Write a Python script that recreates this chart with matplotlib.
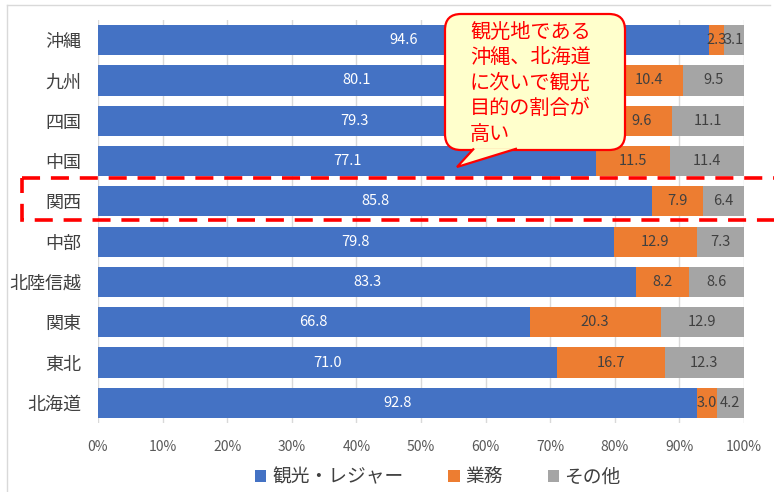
import matplotlib

matplotlib.use("Agg")
import matplotlib.pyplot as plt
from matplotlib.patches import FancyBboxPatch, Polygon, Rectangle
from matplotlib.ticker import FuncFormatter

plt.rcParams["font.family"] = ["Noto Sans CJK JP", "DejaVu Sans"]

# data (top to bottom as shown)
regions = ["沖縄", "九州", "四国", "中国", "関西", "中部", "北陸信越", "関東", "東北", "北海道"]
leisure = [94.6, 80.1, 79.3, 77.1, 85.8, 79.8, 83.3, 66.8, 71.0, 92.8]
business = [2.3, 10.4, 9.6, 11.5, 7.9, 12.9, 8.2, 20.3, 16.7, 3.0]
other = [3.1, 9.5, 11.1, 11.4, 6.4, 7.3, 8.6, 12.9, 12.3, 4.2]
series_names = ["観光・レジャー", "業務", "その他"]
callout_lines = ["観光地である", "沖縄、北海道", "に次いで観光", "目的の割合が", "高い"]
xticks = [0, 10, 20, 30, 40, 50, 60, 70, 80, 90, 100]

BLUE, ORANGE, GRAY = "#4472C4", "#ED7D31", "#A5A5A5"
TXT = "#404040"

W, H = 774, 492
fig = plt.figure(figsize=(W / 100, H / 100), dpi=100)
ax = fig.add_axes([98 / W, 1 - 423 / H, (744 - 98) / W, (423 - 20) / H])

y = list(range(len(regions)))
lefts2 = leisure
lefts3 = [a + b for a, b in zip(leisure, business)]
h = 0.75
b1 = ax.barh(y, leisure, height=h, color=BLUE, label=series_names[0], zorder=2)
b2 = ax.barh(y, business, left=lefts2, height=h, color=ORANGE, label=series_names[1], zorder=2)
b3 = ax.barh(y, other, left=lefts3, height=h, color=GRAY, label=series_names[2], zorder=2)

ax.bar_label(b1, fmt="%.1f", label_type="center", color="white", fontsize=10.5)
ax.bar_label(b2, fmt="%.1f", label_type="center", color=TXT, fontsize=10.5)
ax.bar_label(b3, fmt="%.1f", label_type="center", color=TXT, fontsize=10.5)

ax.set_xlim(0, 100)
ax.set_ylim(len(regions) - 0.5, -0.5)
ax.set_yticks(y)
ax.set_yticklabels(regions, fontsize=13, color=TXT)
ax.set_xticks(xticks)
ax.xaxis.set_major_formatter(FuncFormatter(lambda v, p: f"{v:.0f}%"))
ax.tick_params(axis="x", length=0, pad=12, labelsize=10, labelcolor="#595959")
ax.tick_params(axis="y", length=0, pad=12)
ax.grid(axis="x", color="#D9D9D9", linewidth=1, zorder=0)
for s in ax.spines.values():
    s.set_visible(False)

fig.legend(handles=[b1, b2, b3], loc="center", bbox_to_anchor=(438 / W, 1 - 477 / H),
           ncol=3, frameon=False, fontsize=13.5, handlelength=0.6, handleheight=0.6,
           handletextpad=0.3, columnspacing=2.4, labelcolor=TXT)

# overlay in pixel coordinates for the annotations
ov = fig.add_axes([0, 0, 1, 1], zorder=10)
ov.set_xlim(0, W)
ov.set_ylim(H, 0)
ov.axis("off")

# outer chart frame (top and left edges)
ov.plot([7, 770], [5, 5], color="#D9D9D9", lw=1)
ov.plot([7, 7], [5, 492], color="#D9D9D9", lw=1)

# dashed highlight around 関西
ov.add_patch(Rectangle((22, 178), 800, 42, fill=False, ec="#FF0000", lw=2.6,
                       linestyle=(0, (5, 3))))

# callout balloon
ov.add_patch(FancyBboxPatch((445, 14), 180, 136, boxstyle="round,pad=0,rounding_size=16",
                            fc="#FFFFCC", ec="#FF0000", lw=1.6))
ov.add_patch(Polygon([(474, 148.5), (457, 167), (517, 148.5)], closed=False,
                     fc="#FFFFCC", ec="#FF0000", lw=1.6))
for i, line in enumerate(callout_lines):
    ov.text(470, 32 + i * 25.5, line, color="#FF0000", fontsize=14.5, va="center", ha="left")

fig.savefig("out.png", dpi=100)
